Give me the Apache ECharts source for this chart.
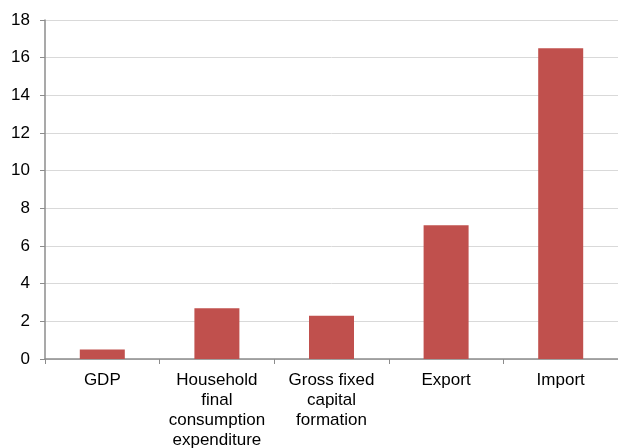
<!DOCTYPE html>
<html>
<head>
<meta charset="utf-8">
<script src="https://cdn.jsdelivr.net/npm/echarts@6/dist/echarts.min.js"></script>
<style>
  html, body { margin: 0; padding: 0; background: #fff; }
  #chart { width: 618px; height: 448px; }
</style>
</head>
<body>
<div id="chart"></div>
<script>
const categories = ['GDP', 'Household\nfinal\nconsumption\nexpenditure', 'Gross fixed\ncapital\nformation', 'Export', 'Import']
const values = [0.5, 2.7, 2.3, 7.1, 16.5]

const myChart = echarts.init(document.getElementById('chart'))
const font = '"Liberation Sans", Arial, sans-serif'

const option = {
  animation: false,
  grid: { left: 45, right: 0, top: 20, bottom: 89, outerBoundsMode: 'none', containLabel: false },
  xAxis: {
    type: 'category',
    data: categories,
    axisLine: { lineStyle: { color: '#8c8c8c', width: 1.5 } },
    axisTick: { show: true, length: 5, alignWithLabel: false, lineStyle: { color: '#8c8c8c' } },
    axisLabel: {
      interval: 0,
      margin: 11,
      color: '#000',
      fontSize: 17,
      lineHeight: 20,
      fontFamily: font
    }
  },
  yAxis: {
    type: 'value',
    min: 0,
    max: 18,
    interval: 2,
    axisLine: { show: true, lineStyle: { color: '#8c8c8c', width: 1.5 } },
    axisTick: { show: true, length: 5, lineStyle: { color: '#8c8c8c' } },
    splitLine: { lineStyle: { color: '#d9d9d9', width: 1 } },
    axisLabel: {
      margin: 15,
      color: '#000',
      fontSize: 17,
      fontFamily: font
    }
  },
  series: [
    {
      type: 'bar',
      data: values,
      barWidth: 45,
      itemStyle: { color: '#C0504D' }
    }
  ]
}

myChart.setOption(option)
</script>
</body>
</html>
